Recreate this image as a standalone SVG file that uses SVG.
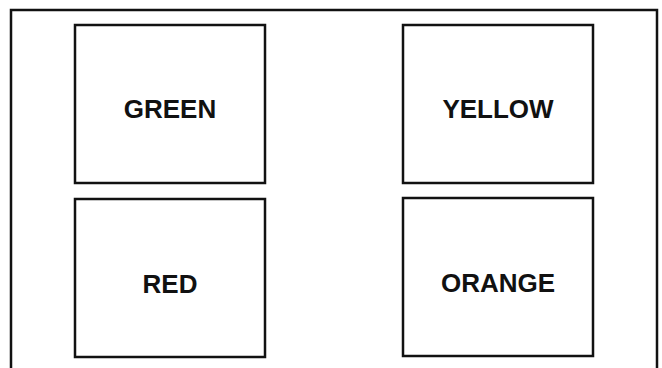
<svg xmlns="http://www.w3.org/2000/svg" width="662" height="368" viewBox="0 0 662 368">
<style>
.box{fill:#fff;stroke:#111;stroke-width:2.5}
.lbl{font-family:"Liberation Sans",Arial,sans-serif;font-weight:bold;font-size:26px;fill:#111;text-anchor:middle}
</style>
<rect width="662" height="368" fill="#fff"/>
<path d="M11,372 V10 H657 V372" fill="none" stroke="#111" stroke-width="2.5"/>
<g id="green"><rect class="box" x="75" y="25" width="190" height="158"/><text class="lbl" x="170" y="118">GREEN</text></g>
<g id="yellow"><rect class="box" x="403" y="25" width="190" height="158"/><text class="lbl" x="498" y="118">YELLOW</text></g>
<g id="red"><rect class="box" x="75" y="199" width="190" height="158"/><text class="lbl" x="170" y="293">RED</text></g>
<g id="orange"><rect class="box" x="403" y="198" width="190" height="158"/><text class="lbl" x="498" y="292">ORANGE</text></g>
<g id="connectors"/>
</svg>
